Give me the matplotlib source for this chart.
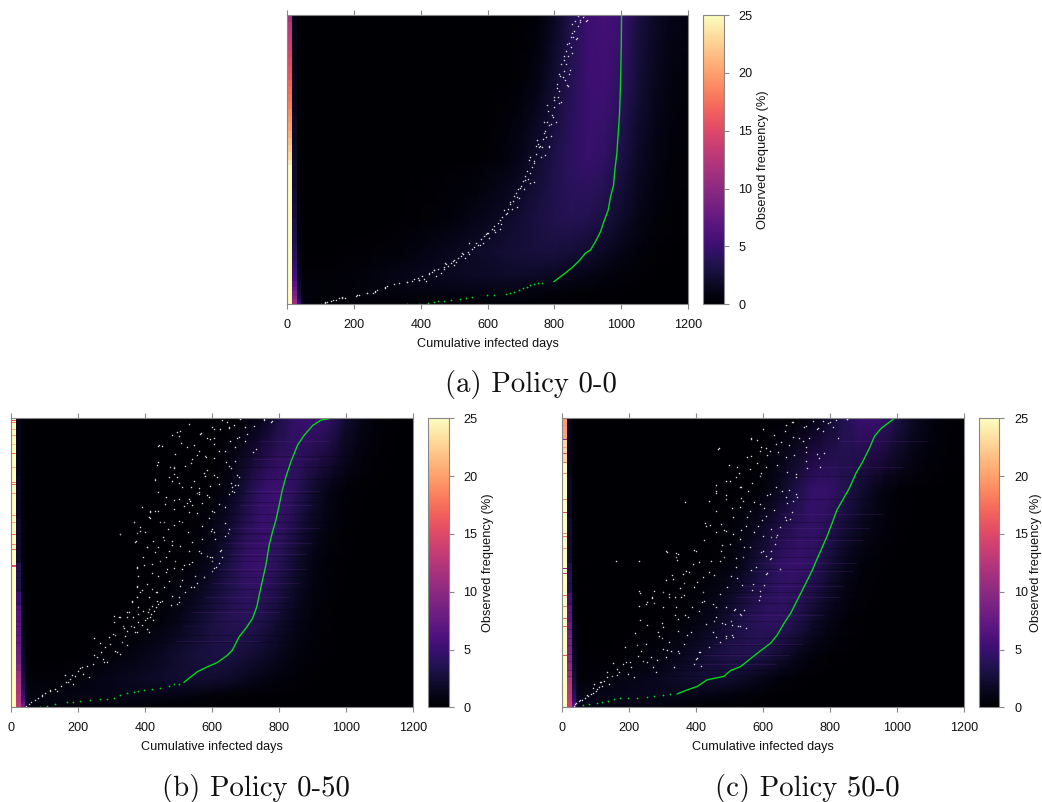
import numpy as np
import matplotlib
matplotlib.use("Agg")
import matplotlib.pyplot as plt

plt.rcParams['font.family'] = ['Liberation Sans', 'DejaVu Sans']

W, H = 1042, 802
TICKS = [0, 200, 400, 600, 800, 1000, 1200]
CB_TICKS = [0, 5, 10, 15, 20, 25]
X_LABEL = "Cumulative infected days"
CB_LABEL = "Observed frequency (%)"
RANK_PER_PCT = 8.67

grid_rows = [0, 4, 10, 18, 30, 50, 75, 100]
grid_cols = [42, 50, 100, 150, 200, 250, 300, 350, 400, 450, 500, 550, 600, 650, 700, 750, 800, 850, 900, 950, 1000, 1050, 1100, 1150, 1200]

# near-zero day columns (14-28 and 28-42 days), one value per band between near_rows
near_rows = [0, 1, 2, 3, 4.5, 6, 8, 10, 12.5, 15, 18, 21, 25, 30, 35, 40, 50, 65, 80, 100]
col2_a = [11,10.5,9.5,8.5,7.5,6.5,5.5,5,4.5,4,3.5,3.2,3,2.6,2.3,2,1.6,1.2,1]
col3_a = [5,4,3,2.6,2.2,1.8,1.5,1.3,1.1,.9,.8,.7,.6,.5,.4,.3,.25,.2,.15]
col2_b = [13,13,12.5,12.5,12,12,11.5,11,9.5,8.5,8,7.5,7,6.5,5,3.5,2.2,1.6,1.2]
col3_b = [8,7,6,5,4.2,3.6,3,2.6,2.2,1.9,1.6,1.4,1.2,1,.8,.6,.5,.4,.3]
col2_c = [14,14,13.5,13,12.5,12.5,12,11,10,9.5,9,8.5,8,7,5.5,3.5,2.2,1.6,1.2]
col3_c = [7,6,5,4.2,3.6,3,2.6,2.2,1.9,1.6,1.4,1.2,1,.8,.7,.5,.4,.3,.25]

freq_a = [
 [2.0,.8,.3,.2,.2,.2,.2,.2,.2,.2,.2,.2,.2,.2,.2,.2,.2,.2,.2,.1,.1,0,0,0,0],
 [1.5,.5,.3,.4,.5,.6,.6,.7,.7,.8,.8,.9,.9,.9,.8,.6,.4,.3,.2,.1,.1,0,0,0,0],
 [1,.2,.2,.3,.5,.7,.9,1.1,1.3,1.4,1.6,1.7,1.8,1.9,1.9,1.8,1.6,1.3,1.0,.7,.4,.2,.1,0,0],
 [.6,.1,0,.1,.1,.2,.3,.5,.8,1.1,1.4,1.8,2.1,2.4,2.6,2.8,2.8,2.6,2.2,1.6,1,.5,.2,.1,0],
 [.4,0,0,0,0,0,0,.1,.2,.3,.6,.9,1.3,1.8,2.4,3,3.5,3.7,3.6,3,2,1.1,.5,.2,.1],
 [.2,0,0,0,0,0,0,0,0,0,0,0,.2,.6,1.2,2.2,3.3,4.2,4.7,4.3,3.1,1.8,.9,.4,.2],
 [.1,0,0,0,0,0,0,0,0,0,0,0,0,0,.3,1,2.3,3.8,5,5.2,4.2,2.5,1.4,.7,.5],
 [0,0,0,0,0,0,0,0,0,0,0,0,0,0,0,.3,1.5,3.4,5,5.5,5,3,1.8,1,.8],
]
freq_b = [
 [3,1,.7,.6,.5,.4,.3,.2,.2,.1,.1,.1,.1,0,0,0,0,0,0,0,0,0,0,0,0],
 [2.2,.8,.7,.8,.9,1,1.1,1.2,1.1,1,.8,.6,.4,.3,.2,.1,.1,0,0,0,0,0,0,0,0],
 [1.8,.3,.2,.3,.5,.8,1.1,1.4,1.7,2,2.3,2.4,2.3,2,1.5,1,.6,.3,.1,0,0,0,0,0,0],
 [1.3,.1,0,0,.1,.2,.4,.7,1.1,1.6,2.2,2.7,3,3,2.6,2,1.3,.7,.3,.1,0,0,0,0,0],
 [.8,0,0,0,0,0,0,0,.2,.5,1.1,2,3,3.7,3.9,3.3,2.2,1.2,.5,.2,0,0,0,0,0],
 [.4,0,0,0,0,0,0,0,0,0,.1,.5,1.5,3,4.5,5,3.8,2.2,.9,.3,.1,0,0,0,0],
 [.3,0,0,0,0,0,0,0,0,0,0,0,.2,1,2.8,4.6,5.2,4,2.2,1,.3,.1,0,0,0],
 [.1,0,0,0,0,0,0,0,0,0,0,0,0,0,.3,1.2,3,4.6,5,4.3,2.2,1,.3,.1,0],
]
freq_c = [
 [3,1.2,1,.9,.8,.6,.4,.3,.2,.1,.1,0,0,0,0,0,0,0,0,0,0,0,0,0,0],
 [2,1,1,1.2,1.3,1.4,1.3,1.2,1,.8,.6,.4,.2,.1,0,0,0,0,0,0,0,0,0,0,0],
 [1.5,.4,.4,.6,.9,1.2,1.6,2,2.3,2.4,2.2,1.7,1.1,.6,.3,.1,0,0,0,0,0,0,0,0,0],
 [1,.1,.1,.1,.3,.5,.8,1.3,2,2.8,3.4,3.6,3.2,2.3,1.3,.6,.2,.1,0,0,0,0,0,0,0],
 [.7,0,0,0,0,0,.1,.3,.7,1.4,2.5,3.5,4.2,4.3,3.4,2,1,.4,.1,0,0,0,0,0,0],
 [.4,0,0,0,0,0,0,0,0,.2,.6,1.6,3,4.3,4.8,4.2,2.6,1.3,.5,.2,0,0,0,0,0],
 [.2,0,0,0,0,0,0,0,0,0,0,.1,.5,1.6,3.2,4.7,4.6,3.4,2,1,.3,.1,0,0,0],
 [.1,0,0,0,0,0,0,0,0,0,0,0,0,0,.2,.8,2.2,3.8,5,4.8,3.2,1.7,.8,.3,.1],
]

strip_edges_a = [0,46,48,50,52.5,55,57.5,60,62.5,65,67.5,70,72.5,75,77.5,80,82.5,85,87.5,90,92.5,95,97.5,100]
strip_vals_a = [26,25,24,23,22.2,21.5,20.8,20,19.5,19,18.3,17.8,17.2,16.7,16,15.6,15,14.5,14,13.5,13,12.5,11.5]
strip_edges_b = [0,100]
strip_vals_b = [26]
strip_edges_c = [0,85,93,100]
strip_vals_c = [26,23,20]
dips_b = [(99.8,15),(99.3,15),(98.6,18),(94,20),(87.9,17),(77.9,18),(77.2,17),(74,20),(66.3,19),(60.3,16),(59.9,17),(56.4,19),(54.6,17),(49,15),(48.6,16),(96,21),(91,22),(83,21),(70,21),(64,21),(52,20)]
dips_c = [(99.6,19),(98.5,20),(97.5,19),(96,20),(94.5,21),(92.7,10),(87.9,15),(84.8,18),(81,19),(67.5,15),(64.8,15),(60.2,19),(59,18),(55,20),(47.9,10),(46.4,14),(38.6,17),(30.8,17),(27.9,17),(25,13),(21.6,18),(18,16),(90,20),(78,20),(72,19),(42,19),(35,19)]

dark_streaks_b = [60,60.3,79,55,50.5,22.7,28,45,34,71,64,58,52.5,47,41,36,30,25,67,74,83,87]
dark_streaks_c = [48,18.5,21.5,24,30,43,13,40,64,55,36,33,27,16,11,59,72,80,52]
light_streaks_b = [(62,650,920),(57,640,900),(53,650,880),(48,620,880),(43,600,860),(70,680,900),(75,700,920),(86,720,920),(92,740,950),(38,580,830),(33,540,800),(28,510,780),(23,490,740)]
light_streaks_c = [(67,650,960),(62,640,920),(58,620,900),(50,570,880),(47,560,870),(42,540,840),(38,520,830),(27,470,740),(22,450,720),(18,420,680),(15,400,640),(83,780,1020),(92,830,1090),(32,500,780)]

green_line_a = [(1001,100),(1000,87.9),(998,76.4),(995,66),(991,59.1),(987,52.2),(981,46.4),(977,41.2),(968,37.2),(961,32.6),(948,28.6),(938,25.1),(923,21.7),(908,18.8),(893,17.7),(873,14.9),(853,12.7),(828,10.4),(798,7.8)]
green_dots_a = [(763,7.5),(750,7.2),(738,7),(728,6.6),(718,5.9),(705,5.5),(693,5),(680,4.4),(668,3.8),(655,3.6),(618,3.2),(598,3.2),(553,2.6),(535,2.3),(518,2),(490,1.6),(468,1.3),(450,1),(438,.7),(420,.5),(393,.2),(358,0)]
green_line_b = [(956,100),(926,99.4),(901,97.5),(876,94.2),(856,90.8),(836,85),(821,79.8),(809,74.6),(801,70),(791,64.8),(781,60.8),(771,56.2),(761,49.2),(751,44),(741,38.8),(734,34.8),(721,30.7),(701,27.3),(681,24.4),(661,19.8),(646,18),(616,15.5),(586,14),(556,12.3),(531,10),(516,8.6)]
green_dots_b = [(500,8.2),(486,7.9),(470,7.4),(446,6.8),(420,6.4),(396,6),(380,5.7),(366,5.4),(345,4.8),(326,4.3),(306,3.1),(285,3),(266,2.9),(236,2.4),(206,2.2),(185,1.9),(166,1.7),(131,1.3),(106,.6),(86,0)]
green_line_c = [(993,100),(953,96.5),(933,93.7),(918,89.6),(898,85),(878,81),(858,75.8),(838,71.7),(821,68.3),(808,64.2),(793,59.6),(778,55.6),(758,50.4),(748,47.6),(733,44.1),(718,40.6),(703,37.2),(683,32.6),(663,29.1),(643,25.1),(623,22.2),(593,19.6),(558,16.4),(533,14.1),(503,12.7),(483,10.7),(433,9.5),(403,7.2),(373,6),(343,4.6)]
green_dots_c = [(323,4.5),(300,4.2),(273,4),(253,3.7),(223,3.3),(195,3.2),(173,3.1),(155,2.7),(138,2.3),(120,1.9),(103,1.6),(80,1.1),(63,.8)]

dots_a = [(100,1),(112,5),(120,8),(132,10),(145,13),(155,18),(165,23),(172,20),(205,26),(215,29),(238,33),(258,35),(262,40),(268,44),(292,50),(298,56),(320,60),(335,64),(358,66),(372,70),(378,75),(390,80),(395,73),(402,85),(410,76),(425,90),(432,98),(440,103),(452,106),(460,95),(468,112),(475,120),(482,115),(490,125),(497,130),(505,128),(512,138),(520,145),(525,150),(532,140),(540,156),(552,165),(560,172),(566,185),(572,178),(580,195),(590,205),(596,212),(604,200),(612,225),(618,235),(622,218),(630,245),(636,225),(643,262),(650,282),(655,270),(662,285),(668,300),(675,310),(680,325),(686,335),(690,345),(695,320),(700,355),(705,370),(712,385),(718,400),(722,375),(728,365),(733,410),(738,430),(745,450),(750,480),(755,470),(760,440),(765,495),(772,520),(778,545),(785,470),(790,505),(795,560),(780,580),(800,590),(805,545),(810,620),(815,640),(808,660),(820,605),(825,680),(830,700),(835,720),(820,720),(840,655),(845,690),(828,745),(842,745),(850,770),(838,780),(855,800),(860,820),(865,795),(870,835),(852,840),(878,845),(885,860),(895,850),(888,866),(870,865),(775,500),(762,470),(745,475),(728,440),(710,345),(672,285),(640,240),(600,215),(585,185),(545,150),(500,118),(470,105),(445,85),(415,70),(815,690),(800,620),(790,540),(770,545),(835,760),(850,800),
 (863,848),(878,853),(898,851),(853,813),(868,798),(843,783),(853,753),(828,733),(848,703),(818,683),(833,673),(808,648),(838,658),(798,613),(813,603),(778,598),(793,568),(783,538),(768,513),(748,493),(783,473),(758,473),(773,448),(738,423),(723,433),(728,393),(738,368),(713,373),(698,348),(688,323),(668,308),(688,293),(658,273),(638,253),(618,223),(598,213),(578,178),(543,185),(523,153),(498,133),(473,123),(438,103),(423,93),(393,73),(358,68),(293,53),(263,38),(238,33),(208,28),(163,18),(138,13),(113,6)]

dots_b = [(45,5),(52,10),(60,15),(70,22),(80,28),(92,35),(100,42),(115,50),(130,55),(138,48),(150,65),(165,75),(175,85),(185,70),(190,95),(200,110),(210,120),(215,100),(225,125),(232,90),(245,130),(255,150),(268,165),(275,145),(280,180),(285,135),(295,190),(305,220),(310,170),(325,160),(330,195),(340,215),(335,245),(345,230),(352,285),(358,245),(306,275),(322,270),(375,225),(368,240),(378,255),(392,248),(400,262),(407,235),(415,270),(418,280),(428,290),(432,300),(440,310),(425,262),(445,315),(395,290),(380,300),(360,318),(375,330),(345,270),(375,365),(385,345),(405,370),(420,355),(433,345),(452,320),(480,335),(495,310),(500,330),(520,345),(545,360),(555,372),(575,390),(505,365),(470,380),(440,395),(375,420),(380,395),(420,430),(395,450),(445,440),(465,415),(490,440),(510,415),(530,430),(550,395),(600,408),(612,420),(620,432),(600,440),(585,455),(560,470),(530,470),(505,485),(470,470),(440,480),(405,480),(425,498),(455,510),(480,500),(540,495),(570,505),(595,450),(625,470),(610,505),(630,450),(605,418),(640,515),(650,535),(600,535),(570,545),(528,525),(445,555),(468,535),(500,560),(440,590),(390,600),(412,570),(325,520),(372,500),(385,530),(368,555),(460,610),(485,595),(500,625),(515,605),(535,620),(560,640),(590,630),(600,590),(620,610),(640,600),(660,650),(650,640),(670,668),(620,670),(595,665),(580,695),(560,645),(545,680),(530,625),(510,660),(480,680),(440,645),(430,685),(415,590),(440,785),(500,815),(530,850),(505,828),(565,820),(595,805),(600,840),(625,835),(645,855),(650,840),(685,865),(700,840),(725,845),(755,863),(780,858),(722,767),(732,775),(680,690),(660,660),(650,725),(670,740),(655,800),(620,770),(605,790),(580,755),(560,770),(540,745),(520,725),(485,700),(475,720),(440,735),(490,760),(450,785),(525,780),(680,810),(700,800),(670,780),(640,770),(408,285),(422,305),(436,318),(412,295),(380,280),(365,270),
 (496,827),(506,792),(441,787),(481,817),(436,727),(486,722),(606,835),(566,822),(546,787),(586,807),(606,807),(676,807),(651,837),(706,819),(686,867),(756,865),(776,857),(666,847),(631,862),(556,757),(536,732),(581,752),(606,747),(641,737),(656,717),(676,697),(586,712),(616,692),(576,702),(606,697),(496,692),(471,692),(431,682),(486,717),(501,672),(536,662),(561,657),(656,672),(678,667),(666,645),(556,642),(586,637),(461,632),(486,622),(526,612),(541,607),(571,612),(531,587),(556,582),(606,587),(416,587),(431,589),(416,567),(456,557),(486,547),(511,557),(366,557),(386,542),(401,527),(326,519),(376,522),(371,497),(406,482),(431,467),(456,502),(481,487),(461,452),(486,417),(516,427),(541,437),(566,462),(601,452),(626,472),(596,529),(606,527),(649,522),(638,552),(591,567),(376,417),(396,427),(421,402),(461,407),(511,382),(536,362),(576,392),(376,362),(391,352),(411,332),(436,347),(476,307),(501,317),(456,362),(361,317),(346,287),(306,257),(326,272),(311,217),(336,237),(371,227),(406,267),(411,227),(316,167),(346,187),(266,192),(246,207),(291,212),(276,137),(246,157),(206,117),(171,77),(181,97),(161,97),(116,52),(91,37)]

dots_c = [(35,5),(42,12),(50,18),(58,22),(68,28),(78,35),(92,42),(100,50),(110,62),(115,75),(125,80),(135,90),(140,70),(150,95),(165,115),(180,130),(195,100),(205,120),(215,90),(225,155),(235,170),(250,190),(265,150),(270,120),(290,215),(300,175),(310,150),(320,195),(335,120),(345,230),(300,240),(345,170),(400,145),(410,165),(395,130),(415,125),(440,180),(470,195),(490,215),(510,210),(525,245),(505,260),(530,245),(485,250),(460,270),(450,310),(455,260),(530,280),(515,295),(470,340),(490,300),(425,320),(410,290),(375,270),(345,265),(340,300),(320,340),(300,300),(275,350),(250,310),(268,330),(230,305),(160,440),(230,350),(310,470),(345,460),(340,450),(370,410),(330,385),(390,430),(420,390),(445,440),(475,470),(500,490),(520,420),(540,450),(570,370),(590,350),(590,335),(610,400),(625,470),(650,415),(610,455),(600,515),(635,490),(620,445),(430,545),(440,620),(460,650),(475,550),(490,530),(510,570),(530,600),(540,620),(560,590),(585,545),(610,575),(625,535),(640,510),(665,570),(680,565),(700,640),(690,620),(670,630),(640,660),(620,640),(590,610),(555,650),(530,660),(500,680),(490,625),(520,690),(560,715),(590,695),(610,720),(620,770),(645,765),(670,750),(700,700),(730,740),(760,760),(770,720),(720,800),(690,810),(665,830),(640,790),(590,770),(565,805),(600,835),(565,755),(465,775),(750,860),(780,860),(800,855),(850,865),(760,835),(730,845),(690,857),(810,840),(780,830),(730,780),(85,40),(105,55),(95,70),(120,65),(170,105),(190,135),(240,140),(280,105),(325,170),(365,190),(385,225),(430,250),(450,225),(395,360),(420,345),(355,330),(300,345),(285,225),(360,400),(505,395),(530,505),(560,480),(580,420),(600,470),(650,540),(550,545),(510,520),(470,440),(440,405),(400,470),
 (468,777),(563,807),(583,802),(593,782),(608,777),(633,817),(653,797),(668,847),(688,857),(723,842),(763,837),(793,852),(818,862),(850,865),(823,807),(738,807),(708,807),(678,787),(693,757),(728,767),(768,747),(783,762),(733,717),(698,692),(673,707),(643,727),(613,757),(583,732),(553,752),(523,722),(498,727),(528,702),(593,702),(568,672),(533,662),(488,679),(458,667),(458,642),(488,637),(533,627),(573,617),(613,637),(658,649),(678,652),(703,632),(673,612),(688,587),(633,592),(603,597),(553,572),(508,597),(460,589),(366,615),(428,552),(443,547),(458,527),(483,532),(533,532),(573,527),(623,512),(668,562),(643,517),(598,562),(313,465),(341,462),(343,442),(228,440),(393,472),(423,502),(408,437),(378,407),(328,397),(311,382),(363,372),(403,377),(453,397),(478,487),(483,452),(518,447),(543,482),(593,467),(623,447),(650,414),(613,402),(563,412),(523,387),(493,362),(538,367),(568,352),(588,322),(603,367),(543,292),(513,292),(533,277),(548,237),(508,247),(478,252),(458,302),(418,317),(388,302),(368,277),(338,277),(298,252),(273,312),(253,317),(231,342),(268,327),(338,332),(363,337),(353,357),(318,332),(233,262),(253,247),(218,222),(188,182),(223,187),(253,137),(283,142),(298,207),(313,172),(348,162),(373,217),(413,167),(403,147),(458,212),(488,207),(508,217),(203,137),(153,132),(133,107),(163,97),(113,77),(93,57),(73,37),(53,22),(38,9)]

LEVELS = dict(cmap='magma', vmin=0, vmax=25)


def rect(left, right, top, bottom):
    return [left / W, 1 - bottom / H, (right - left) / W, (bottom - top) / H]


def panel(box, cb_box, freq, col2, col3, edges, vals, dips, dark, light, g_line, g_dots, dots, caption, cap_xy, cb_pad=3):
    ax = fig.add_axes(rect(*box))
    cax = fig.add_axes(rect(*cb_box))
    ax.set_facecolor('black')
    ax.pcolormesh(grid_cols, grid_rows, np.array(freq, float), shading='gouraud', rasterized=True, **LEVELS)
    ax.pcolormesh([0, 14], edges, np.array(vals, float)[:, None], **LEVELS)
    ax.pcolormesh([14, 28], near_rows, np.array(col2, float)[:, None], **LEVELS)
    ax.pcolormesh([28, 42], near_rows, np.array(col3, float)[:, None], **LEVELS)
    for y, v in dips:
        ax.pcolormesh([0, 14], [y - .13, y + .13], [[v]], **LEVELS)
    if light:
        ly, lx0, lx1 = np.array(light).T
        ax.hlines(ly, lx0, lx1, color='#6a2a9a', lw=0.5, alpha=0.3)
    if dark:
        ax.hlines(dark, 14, 1200, color='black', lw=0.4, alpha=0.4)
    gx, gy = np.array(g_line).T
    ax.plot(gx, gy, color='#00d818', lw=1.0, solid_capstyle='round')
    dx, dy = np.array(g_dots).T
    ax.scatter(dx, dy, s=1.6, color='#00d818', linewidths=0)
    wx, wy = np.array(dots).T
    ax.scatter(wx, wy / RANK_PER_PCT, s=1.2, color='#d8d8d8', linewidths=0)
    ax.set_xlim(0, 1200)
    ax.set_ylim(0, 100)
    ax.set_yticks([])
    ax.set_xticks(TICKS)
    ax.tick_params(axis='x', top=True, bottom=True, length=3.6, width=0.8, color='#888888',
                   labelsize=9.1, pad=7, labelcolor='#111111')
    for s in ax.spines.values():
        s.set_edgecolor('#888888')
        s.set_linewidth(0.8)
    ax.set_xlabel(X_LABEL, fontsize=9.1, labelpad=5, color='#111111')

    cb = fig.colorbar(plt.cm.ScalarMappable(norm=plt.Normalize(0, 25), cmap='magma'), cax=cax)
    cb.set_ticks(CB_TICKS)
    cb.ax.tick_params(length=3.6, width=0.8, color='#888888', labelsize=9.1, pad=7, labelcolor='#111111')
    cb.outline.set_edgecolor('#888888')
    cb.outline.set_linewidth(0.8)
    cb.set_label(CB_LABEL, fontsize=9.2, labelpad=cb_pad, color='#111111')
    fig.text(cap_xy[0] / W, 1 - cap_xy[1] / H, caption, family='cmr10', fontsize=20.7,
             ha='center', va='center', color='#111111')


fig = plt.figure(figsize=(W / 100, H / 100), dpi=100)
panel((287.3, 688, 15, 304.3), (703.3, 723.7, 15, 304.3), freq_a, col2_a, col3_a, strip_edges_a, strip_vals_a, [], [], [],
      green_line_a, green_dots_a, dots_a, "(a) Policy 0-0", (531, 384))
panel((11.3, 412.7, 418.3, 707.3), (428, 448.7, 418.3, 707.3), freq_b, col2_b, col3_b, strip_edges_b, strip_vals_b, dips_b, dark_streaks_b, light_streaks_b,
      green_line_b, green_dots_b, dots_b, "(b) Policy 0-50", (256, 788))
panel((562.3, 963.7, 418.3, 707.3), (979.3, 999.3, 418.3, 707.3), freq_c, col2_c, col3_c, strip_edges_c, strip_vals_c, dips_c, dark_streaks_c, light_streaks_c,
      green_line_c, green_dots_c, dots_c, "(c) Policy 50-0", (807, 788), cb_pad=1.5)
fig.savefig("out.png", dpi=100)
